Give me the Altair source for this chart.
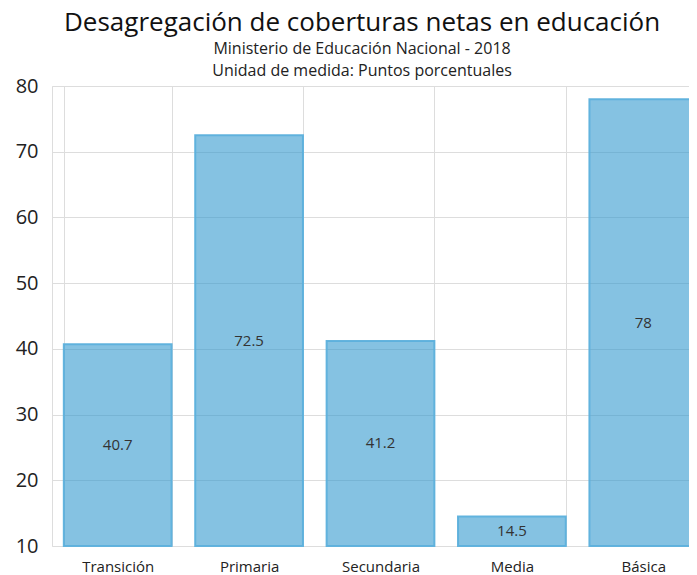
import altair as alt
import pandas as pd

categorias = ["Transición", "Primaria", "Secundaria", "Media", "Básica"]
valores = [40.7, 72.5, 41.2, 14.5, 78]

df = pd.DataFrame({"categoria": categorias, "valor": valores})

FONT = "Open Sans"

base = alt.Chart(df).encode(
    x=alt.X(
        "categoria:N",
        sort=categorias,
        title=None,
        scale=alt.Scale(paddingInner=0.18, paddingOuter=0.09, range=[0, 657]),
        axis=alt.Axis(
            labelAngle=0,
            labelFontSize=15,
            labelFont=FONT,
            labelColor="#222222",
            labelPadding=13,
            ticks=False,
            domain=False,
            grid=True,
            gridColor="#dddddd",
            tickBand="extent",
        ),
    )
)

bars = base.mark_bar(
    color="#3499cf",
    fillOpacity=0.6,
    stroke="#5cb0dc",
    strokeWidth=2,
    strokeOpacity=0.95,
).encode(
    y=alt.Y(
        "valor:Q",
        title=None,
        scale=alt.Scale(domain=[10, 80], nice=False, zero=False),
        axis=alt.Axis(
            values=[10, 20, 30, 40, 50, 60, 70, 80],
            labelFontSize=20,
            labelFont=FONT,
            labelColor="#222222",
            labelPadding=14,
            ticks=False,
            domain=False,
            gridColor="#dddddd",
        ),
    ),
    y2=alt.datum(10),
)

labels = base.transform_calculate(mid="(datum.valor + 10) / 2").mark_text(
    font=FONT, fontSize=15, color="#333333"
).encode(
    y=alt.Y("mid:Q"),
    text=alt.Text("valor:Q"),
)

chart = (
    alt.layer(bars, labels)
    .properties(
        width=637,
        height=460,
        autosize=alt.AutoSizeParams(type="none"),
        padding={"left": 44, "top": 78, "right": 0, "bottom": 29},
        title=alt.TitleParams(
            text="Desagregación de coberturas netas en educación",
            subtitle=["Ministerio de Educación Nacional - 2018", "Unidad de medida: Puntos porcentuales"],
            font=FONT,
            fontSize=26,
            fontWeight="normal",
            color="#111111",
            subtitleFont=FONT,
            subtitleFontSize=16,
            subtitleColor="#222222",
            subtitleLineHeight=22,
            subtitlePadding=5,
            anchor="middle",
            frame="bounds",
            offset=-3,
        ),
    )
    .configure_view(stroke=None)
    .configure(background="white")
)

chart.save("out.html", embed_options={"renderer": "svg", "actions": False})
